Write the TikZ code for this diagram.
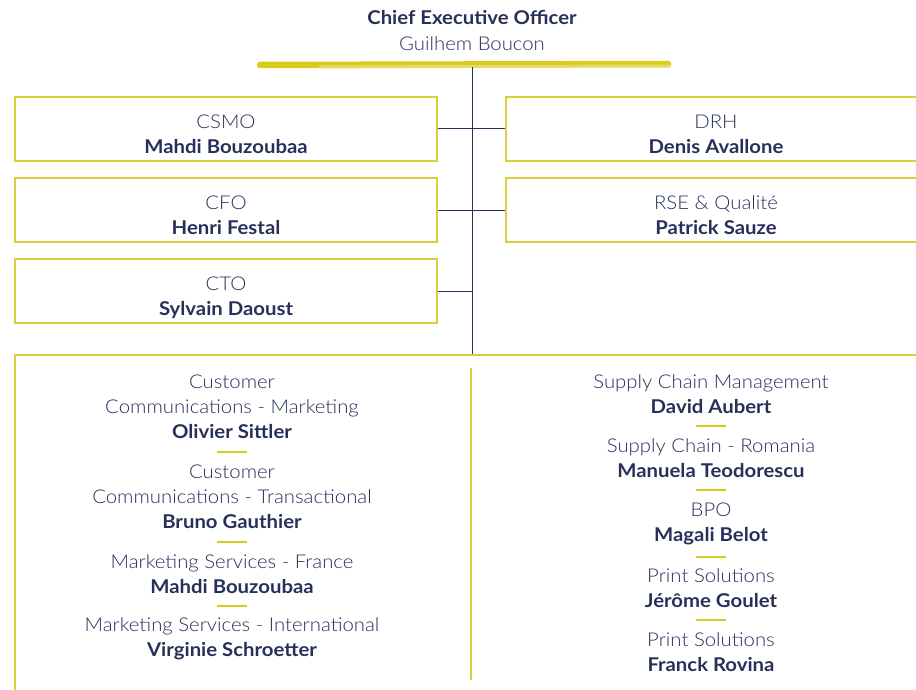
\documentclass[tikz,border=0pt]{standalone}
\usepackage{fontspec}
\setmainfont[FakeStretch=1.07]{Lato}
\newfontfamily\lightfont[FakeStretch=1.07]{Lato Light}
\usetikzlibrary{calc}
\definecolor{navy}{HTML}{28305A}
\definecolor{gold}{HTML}{DCCB1F}
\definecolor{goldbox}{HTML}{DDCD3A}
\tikzset{
  orgbox/.style={draw=goldbox, line width=1.4pt, minimum height=64pt, align=center, text=navy, inner sep=0pt, text height=52pt, text depth=3pt},
  leftbox/.style={orgbox, minimum width=422pt},
  rightbox/.style={orgbox, minimum width=420pt},
  entry/.style={align=center, text=navy, inner sep=0pt},
  link/.style={draw=navy, line width=1pt},
  sep/.style={draw=gold, line width=2pt}
}
\newcommand{\role}[2]{{\lightfont #1}\\\textbf{#2}}
\begin{document}
\begin{tikzpicture}[x=1pt, y=-1pt, font=\fontsize{19}{25}\selectfont]
\useasboundingbox (0,0) rectangle (916,690);
% chief executive
\node[entry, font=\fontsize{19}{25}\selectfont\bfseries] (ceot) at (472,18) {Chief Executive Officer};
\node[entry, font=\fontsize{19}{25}\selectfont\lightfont] (ceoname) at (472,44) {Guilhem Boucon};
% brush stroke
\draw[gold, line width=6.5pt, line cap=round] (260,65) -- (668,64);
\draw[gold!60!white, line width=3pt, line cap=round, opacity=.8] (320,67) -- (670,66);
% spine
\coordinate (top) at (472,67);
\coordinate (bot) at (472,355);
\draw[link] (top) -- (bot);
% direct reports
\node[leftbox] (csmo) at (226,129) {\role{CSMO}{Mahdi Bouzoubaa}};
\node[leftbox] (cfo) at (226,210) {\role{CFO}{Henri Festal}};
\node[leftbox] (cto) at (226,291) {\role{CTO}{Sylvain Daoust}};
\node[rightbox] (drh) at (716,129) {\role{DRH}{Denis Avallone}};
\node[rightbox] (rse) at (716,210) {\role{RSE \& Qualité}{Patrick Sauze}};
\draw[link] (csmo.east) -- (drh.west);
\draw[link] (cfo.east) -- (rse.west);
\draw[link] (cto.east) -- (cto.east -| top);
% business units
\draw[goldbox, line width=1.4pt] (930,355) -- (15,355) -- (15,700);
\draw[goldbox, line width=1.4pt] (471,368) -- (471,680);
\node[entry] (cc1) at (232,407) {{\lightfont Customer}\\{\lightfont Communications - Marketing}\\\textbf{Olivier Sittler}};
\node[entry] (cc2) at (232,497) {{\lightfont Customer}\\{\lightfont Communications - Transactional}\\\textbf{Bruno Gauthier}};
\node[entry] (ms1) at (232,574) {\role{Marketing Services - France}{Mahdi Bouzoubaa}};
\node[entry] (ms2) at (232,639) {\role{Marketing Services - International}{Virginie Schroetter}};
\node[entry] (sc1) at (711,394) {\role{Supply Chain Management}{David Aubert}};
\node[entry] (sc2) at (711,458) {\role{Supply Chain - Romania}{Manuela Teodorescu}};
\node[entry] (bpo) at (711,524) {\role{BPO}{Magali Belot}};
\node[entry] (ps1) at (711,588) {\role{Print Solutions}{Jérôme Goulet}};
\node[entry] (ps2) at (711,652) {\role{Print Solutions}{Franck Rovina}};
\foreach \a/\b in {cc1/cc2, cc2/ms1, ms1/ms2, sc1/sc2, sc2/bpo, bpo/ps1, ps1/ps2}
  \draw[sep] ($(\a.south)!.5!(\b.north)+(-15,0)$) -- ++(30,0);
\end{tikzpicture}
\end{document}
